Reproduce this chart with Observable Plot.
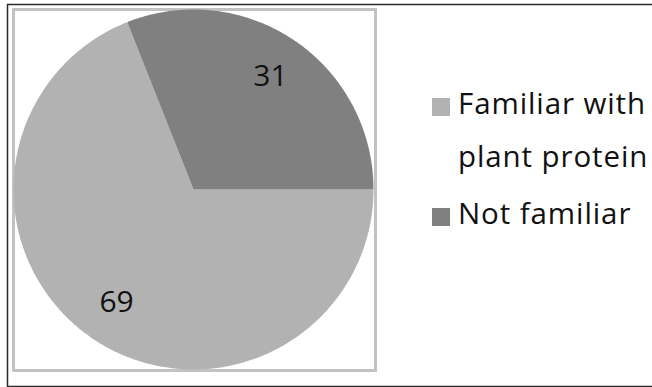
<!DOCTYPE html>
<html>
<head>
<meta charset="utf-8">
<script src="https://cdn.jsdelivr.net/npm/d3@7"></script>
<script src="https://cdn.jsdelivr.net/npm/@observablehq/plot@0.6"></script>
<style>
  html, body { margin: 0; padding: 0; background: #fff; }
  #wrap { position: relative; width: 652px; height: 387px; overflow: hidden; font-family: "Open Sans", sans-serif; }
  #legend { position: absolute; left: 432px; top: 0; width: 230px; height: 387px; }
  .sw { position: absolute; left: 0; width: 18px; height: 18px; }
  .lab { position: absolute; left: 26px; width: 200px; font-size: 29.5px; letter-spacing: 0.9px; color: #111; white-space: normal; }
</style>
</head>
<body>
<div id="wrap"></div>
<script>
const categories = ["Familiar with plant protein", "Not familiar"];
const values = [69, 31];
const colors = ["#b2b2b2", "#808080"];

const W = 652, H = 387;
const pie = d3.pie().sort(null).startAngle(Math.PI / 2).endAngle(Math.PI / 2 + 2 * Math.PI);
const arcs = pie(values);

// slice outlines as closed polygons (data space, unit circle, y up)
const pts = [];
arcs.forEach((a, i) => {
  pts.push({name: categories[i], x: 0, y: 0});
  const n = 240;
  for (let k = 0; k <= n; k++) {
    const t = a.startAngle + (a.endAngle - a.startAngle) * k / n;
    pts.push({name: categories[i], x: Math.sin(t), y: Math.cos(t)});
  }
});
const labels = arcs.map((a, i) => {
  const m = (a.startAngle + a.endAngle) / 2;
  return {text: String(values[i]), x: 0.76 * Math.sin(m), y: 0.76 * Math.cos(m)};
});

const chart = Plot.plot({
  width: W,
  height: H,
  marginLeft: 13,
  marginRight: 279,
  marginTop: 9,
  marginBottom: 18,
  x: {domain: [-1, 1], axis: null},
  y: {domain: [-1, 1], axis: null},
  color: {domain: categories, range: colors},
  style: {fontFamily: "'Open Sans', sans-serif", background: "#fff", overflow: "hidden"},
  marks: [
    Plot.frame({stroke: "#2b2b2b", strokeWidth: 1.5, insetLeft: -6, insetTop: -5, insetBottom: -17, insetRight: -300}),
    Plot.frame({stroke: "#c2c2c2", strokeWidth: 3, insetRight: -2, insetBottom: -1}),
    Plot.line(pts, {x: "x", y: "y", z: "name", fill: "name", stroke: "none", curve: "linear-closed"}),
    Plot.text(labels, {x: "x", y: "y", text: "text", fontSize: 30, fill: "#111", lineAnchor: "middle"})
  ]
});

const wrap = document.getElementById("wrap");
wrap.appendChild(chart);

const legend = document.createElement("div");
legend.id = "legend";
const swTops = [98, 208];
const labTops = [{top: 76, lh: 53}, {top: 198.5, lh: 28}];
categories.forEach((c, i) => {
  const sw = document.createElement("div");
  sw.className = "sw";
  sw.style.top = swTops[i] + "px";
  sw.style.background = colors[i];
  legend.appendChild(sw);
  const lab = document.createElement("div");
  lab.className = "lab";
  lab.style.top = labTops[i].top + "px";
  lab.style.lineHeight = labTops[i].lh + "px";
  lab.textContent = c;
  legend.appendChild(lab);
});
wrap.appendChild(legend);
</script>
</body>
</html>
